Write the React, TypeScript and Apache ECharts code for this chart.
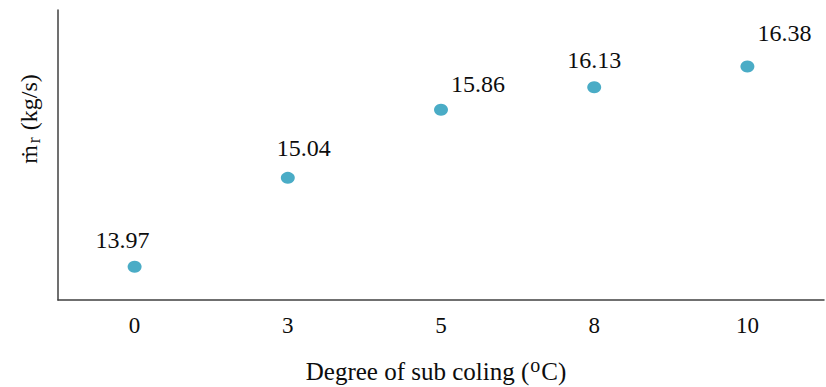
import React, { useEffect, useRef } from "react";
import * as echarts from "echarts";

const categories = ["0", "3", "5", "8", "10"];
const massFlow = [13.97, 15.04, 15.86, 16.13, 16.38];
const xTitle = "Degree of sub coling (";
const yTitleUnit = " (kg/s)";

// label placement (style, not data): offset of each value label from its point
const labelOffsets: [number, number][] = [
  [-12, -27],
  [16, -30],
  [37, -25.5],
  [0, -27.5],
  [37, -33.5],
];

const FONT = "'Liberation Serif', 'Times New Roman', serif";
const TEXT = "#0d0d0d";

export default function App() {
  const ref = useRef<HTMLDivElement>(null);
  useEffect(() => {
    if (!ref.current) return;
    const chart = echarts.init(ref.current, undefined, { renderer: "svg" });
    chart.setOption({
      animation: false,
      backgroundColor: "#ffffff",
      grid: { left: 58, right: 2, top: 10, bottom: 87, containLabel: false },
      xAxis: {
        type: "category",
        data: categories,
        boundaryGap: true,
        axisLine: { show: true, lineStyle: { color: "#404040", width: 1.5 } },
        axisTick: { show: false },
        axisLabel: { color: TEXT, fontFamily: FONT, fontSize: 23, margin: 14 },
        splitLine: { show: false },
      },
      yAxis: {
        type: "value",
        min: 13.57,
        max: 17.06,
        axisLine: { show: true, lineStyle: { color: "#404040", width: 1.5 } },
        axisTick: { show: false },
        axisLabel: { show: false },
        splitLine: { show: false },
      },
      series: [
        {
          type: "scatter",
          symbol: "circle",
          symbolSize: [14, 12],
          itemStyle: { color: "#4AACC6", opacity: 1 },
          data: massFlow.map((v, i) => ({
            value: v,
            label: {
              show: true,
              position: "inside",
              offset: labelOffsets[i],
              formatter: (p: any) => p.value.toFixed(2),
              color: TEXT,
              textBorderWidth: 0,
              fontFamily: FONT,
              fontSize: 24,
            },
          })),
        },
      ],
      graphic: [
        {
          type: "text",
          x: 436,
          y: 371,
          style: {
            text: `{a|${xTitle}}{s|o}{a|C)}`,
            align: "center",
            verticalAlign: "middle",
            rich: {
              a: { fontFamily: FONT, fontSize: 25, fill: TEXT },
              s: { fontFamily: FONT, fontSize: 20, fill: TEXT, padding: [0, 1, 12, 1] },
            },
          },
        },
        {
          type: "text",
          x: 29,
          y: 119,
          rotation: Math.PI / 2,
          style: {
            text: `{a|ṁ}{s|r}{a|${yTitleUnit}}`,
            align: "center",
            verticalAlign: "middle",
            rich: {
              a: { fontFamily: FONT, fontSize: 24, fill: TEXT },
              s: { fontFamily: FONT, fontSize: 18, fill: TEXT, padding: [10, 1, 0, 2] },
            },
          },
        },
      ],
    });
    return () => chart.dispose();
  }, []);
  return <div ref={ref} style={{ width: 826, height: 387, position: "absolute", left: 0, top: 0 }} />;
}
